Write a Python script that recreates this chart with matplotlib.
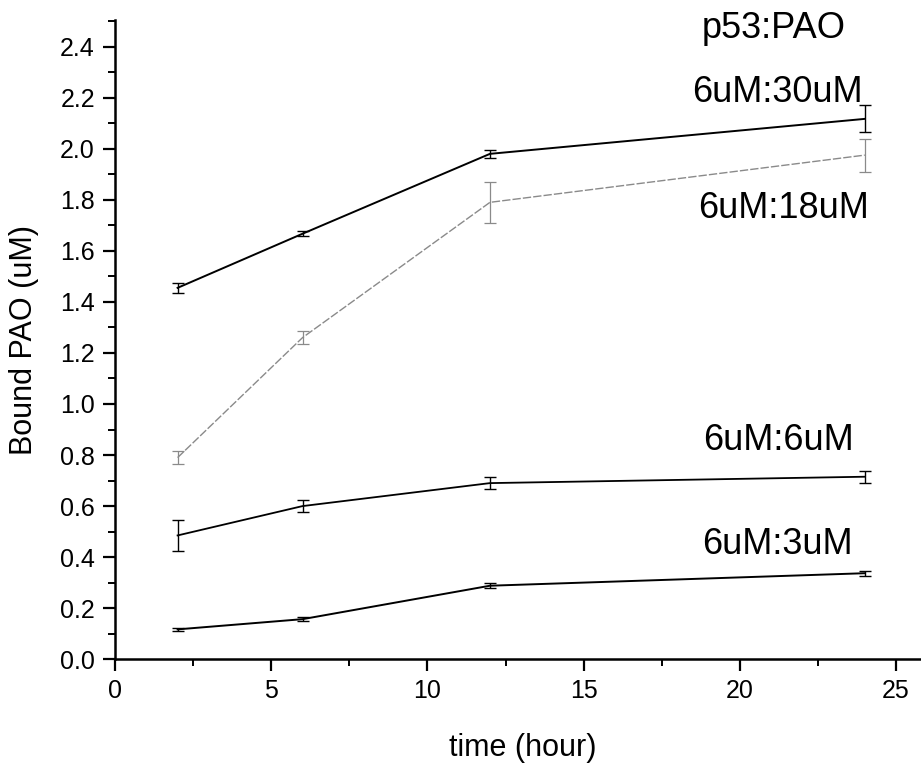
import numpy as np
import matplotlib
matplotlib.use('Agg')
import matplotlib.pyplot as plt
from matplotlib.ticker import MultipleLocator

plt.rcParams['font.family'] = ['Liberation Sans', 'DejaVu Sans']

# sampling times (hour)
time = [2, 6, 12, 24]

# bound PAO (uM) and error for each p53:PAO ratio
pao_30 = [1.455, 1.667, 1.98, 2.117]
err_30 = [0.02, 0.01, 0.015, 0.053]
pao_18 = [0.79, 1.26, 1.79, 1.975]
err_18 = [0.025, 0.025, 0.08, 0.065]
pao_6 = [0.485, 0.60, 0.69, 0.715]
err_6 = [0.06, 0.025, 0.025, 0.023]
pao_3 = [0.117, 0.157, 0.288, 0.337]
err_3 = [0.005, 0.008, 0.01, 0.01]

labels = ['6uM:30uM', '6uM:18uM', '6uM:6uM', '6uM:3uM']
label_pos = [(21.2, 2.22), (21.4, 1.765), (21.25, 0.857), (21.2, 0.45)]

fig = plt.figure(figsize=(9.21, 7.63), dpi=100)
ax = fig.add_axes([0.125, 0.136, 0.875, 0.838])

ax.errorbar(time, pao_30, yerr=err_30, color='black', lw=1.4, elinewidth=1.0, capsize=4.5, capthick=1.0)
ax.errorbar(time, pao_18, yerr=err_18, color='#8a8a8a', lw=1.0, elinewidth=0.9, capsize=4.5, capthick=0.9,
            ls=(0, (6, 1.5)))
ax.errorbar(time, pao_6, yerr=err_6, color='black', lw=1.3, elinewidth=1.0, capsize=4.5, capthick=1.0)
ax.errorbar(time, pao_3, yerr=err_3, color='black', lw=1.4, elinewidth=1.0, capsize=4.5, capthick=1.0)

for txt, (x, y) in zip(labels, label_pos):
    ax.text(x, y, txt, fontsize=26, ha='center', va='center')
ax.text(21.1, 2.47, 'p53:PAO', fontsize=26, ha='center', va='center')

ax.set_xlim(0, 25.8)
ax.set_ylim(0, 2.505)
ax.xaxis.set_major_locator(MultipleLocator(5))
ax.xaxis.set_minor_locator(MultipleLocator(2.5))
ax.yaxis.set_major_locator(MultipleLocator(0.2))
ax.yaxis.set_minor_locator(MultipleLocator(0.1))
ax.yaxis.set_major_formatter(plt.FormatStrFormatter('%.1f'))

for s in ['top', 'right']:
    ax.spines[s].set_visible(False)
for s in ['left', 'bottom']:
    ax.spines[s].set_linewidth(1.8)

ax.tick_params(which='major', length=8.5, width=1.6, labelsize=18, direction='out', pad=6)
ax.tick_params(which='minor', length=5, width=1.4, direction='out')

ax.set_xlabel('time (hour)', fontsize=22)
ax.set_ylabel('Bound PAO (uM)', fontsize=22)
ax.xaxis.set_label_coords(0.506, -0.115)
ax.yaxis.set_label_coords(-0.094, 0.5)

fig.savefig('out.png', dpi=100)
